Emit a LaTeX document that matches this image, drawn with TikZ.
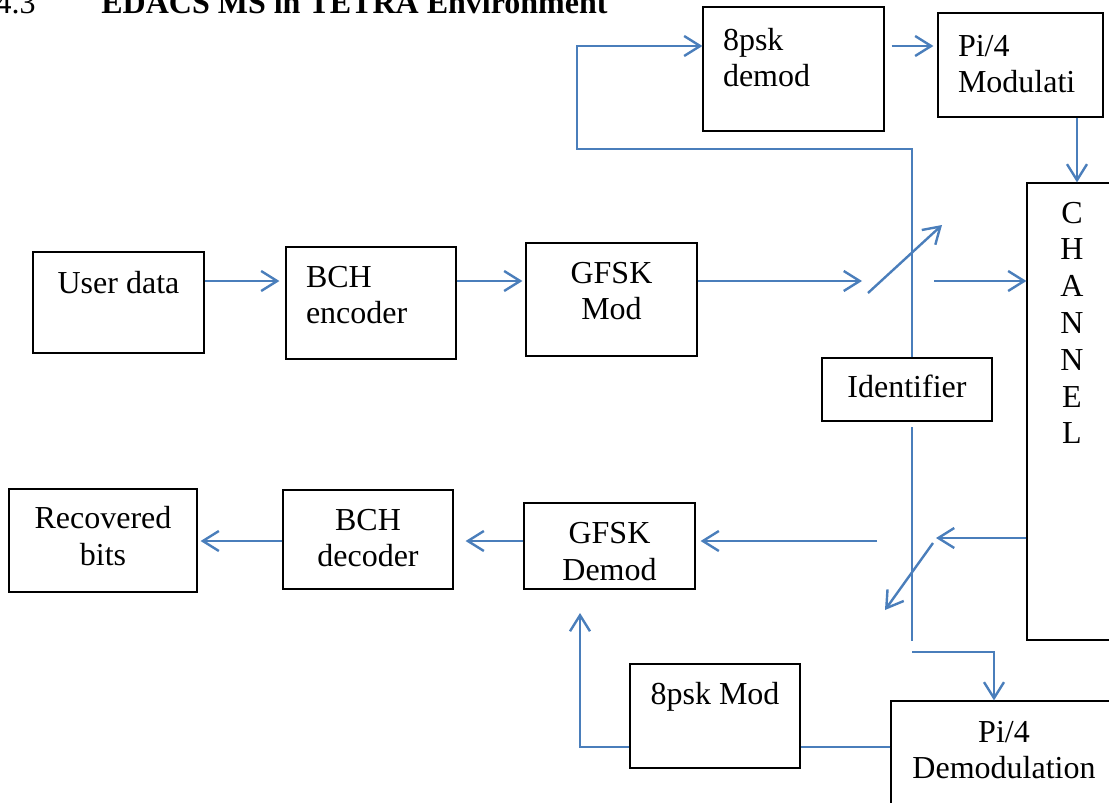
\documentclass[tikz,border=0pt]{standalone}
\usepackage{fontspec}
\setmainfont{Liberation Serif}
\usetikzlibrary{arrows.meta}
\definecolor{wireblue}{RGB}{74,126,187}
\newcommand{\boxfont}{\fontsize{16}{18.4}\selectfont}
\tikzset{
  blk/.style={draw, line width=0.6pt, inner xsep=3pt, inner ysep=0pt, align=flush center, font=\boxfont},
  blkl/.style={blk, align=flush left, inner xsep=10pt},
  wire/.style={wireblue, line width=1.2pt},
  arr/.style={wire, -{Straight Barb[length=8pt,width=10pt]}}
}
\begin{document}
\begin{tikzpicture}[x=0.5pt,y=-0.5pt]
\clip (0,0) rectangle (1109,803);
\node[anchor=base east, inner sep=0pt, font=\boxfont] (secnum) at (36,13.5) {4.3};
\node[anchor=base west, inner sep=0pt, font=\boxfont\bfseries] (title) at (101,13.5) {EDACS MS in TETRA Environment};

\node[blk, text width=79.5pt, text height=20.5pt, text depth=30pt] (user) at (118.5,302.5) {User data};
\node[blkl, text width=65pt, text height=20pt, text depth=36pt] (bchenc) at (371,303) {BCH\\encoder};
\node[blk, text width=79.5pt, text height=20pt, text depth=36.5pt] (gfskmod) at (611.5,299.5) {GFSK\\Mod};
\node[blkl, text width=70.5pt, text height=21.5pt, text depth=40.5pt] (pskdem) at (793.5,69) {8psk\\demod};
\node[blkl, text width=62.5pt, text height=21.5pt, text depth=30.5pt] (pimod) at (1020.5,65) {Pi/4\\Modulati};
\node[blk, text width=39pt, text height=20pt, text depth=208.5pt] (chan) at (1072,411.5) {C\\H\\A\\N\\N\\E\\L};
\node[blk, text width=79pt, text height=19.7pt, text depth=11.8pt] (ident) at (907,389.5) {Identifier};
\node[blk, text width=88pt, text height=19.7pt, text depth=31.8pt] (recov) at (103,540.5) {Recovered\\bits};
\node[blk, text width=79pt, text height=20pt, text depth=29.5pt] (bchdec) at (368,539.5) {BCH\\decoder};
\node[blk, text width=79.5pt, text height=20.2pt, text depth=22.8pt] (gfskdem) at (609.5,546) {GFSK\\Demod};
\node[blk, text width=79pt, text height=20pt, text depth=32pt] (pskmod) at (715,716) {8psk Mod};
\node[blk, text width=107pt, text height=20.5pt, text depth=44pt] (pidem) at (1004,765.5) {Pi/4\\Demodulation};

% transmit path
\coordinate (row1) at (0,281);
\draw[arr, shorten >=3pt] (user.east |- row1) -- (bchenc.west |- row1);
\draw[arr, shorten >=1.5pt] (bchenc.east |- row1) -- (gfskmod.west |- row1);
\coordinate (swin) at (862,281);
\draw[arr] (gfskmod.east |- row1) -- (swin);
\coordinate (swa) at (868,293);
\coordinate (swb) at (942,225);
\draw[arr] (swa) -- (swb);
\coordinate (swout) at (934,281);
\draw[arr] (swout) -- (chan.west |- swout);

% identifier loop to the 8psk branch
\coordinate (upr) at (912,149);
\coordinate (upl) at (577,149);
\coordinate (topl) at (577,46);
\draw[arr] (ident.north -| upr) -- (upr) -- (upl) -- (topl) -- (topl -| pskdem.west);
\draw[arr, shorten <=3.5pt, shorten >=2pt] (pskdem.east |- topl) -- (pimod.west |- topl);
\coordinate (chin) at (1077,0);
\draw[arr] (pimod.south -| chin) -- (chan.north -| chin);

% below the identifier
\coordinate (dnt) at (912,427);
\coordinate (dnb) at (912,641);
\draw[wire] (dnt) -- (dnb);
\coordinate (brl) at (912,652);
\coordinate (brr) at (994,652);
\draw[arr] (brl) -- (brr) -- (pidem.north -| brr);

% receive path
\coordinate (row2) at (0,541);
\coordinate (sw2in) at (936,538);
\draw[arr] (chan.west |- sw2in) -- (sw2in);
\coordinate (swc) at (933,543);
\coordinate (swd) at (885,610);
\draw[arr] (swc) -- (swd);
\coordinate (sw2out) at (877,541);
\draw[arr, shorten >=2.5pt] (sw2out) -- (gfskdem.east |- sw2out);
\draw[arr, shorten >=6pt] (gfskdem.west |- row2) -- (bchdec.east |- row2);
\draw[arr, shorten >=1.5pt] (bchdec.west |- row2) -- (recov.east |- row2);

\coordinate (lowr) at (580,747);
\coordinate (uptip) at (580,613);
\draw[wire] (pidem.west |- lowr) -- (pskmod.east |- lowr);
\draw[arr] (pskmod.west |- lowr) -- (lowr) -- (uptip);
\end{tikzpicture}
\end{document}
